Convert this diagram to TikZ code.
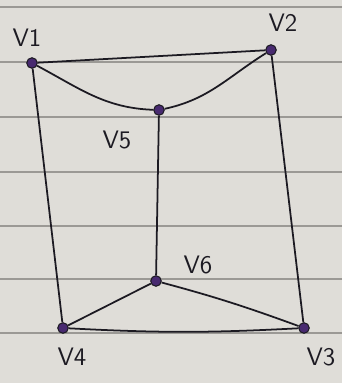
\documentclass[tikz,border=0pt]{standalone}
\definecolor{paper}{RGB}{223,221,216}
\definecolor{ruling}{RGB}{155,153,149}
\definecolor{ink}{RGB}{28,26,34}
\definecolor{inkpurple}{RGB}{72,42,112}
\usepackage{tikz}
\usetikzlibrary{positioning}

\begin{document}
\begin{tikzpicture}[
    x=0.02cm, y=-0.02cm,
    vertex/.style={circle, fill=inkpurple, draw=ink, line width=0.6pt,
                   inner sep=0pt, minimum size=6pt},
    edge/.style={ink, line width=1pt},
    vname/.style={font=\sffamily\Large, text=ink, inner sep=1pt}
  ]
    %% PAPER AND RULED LINES
    \fill[paper] (0,0) rectangle (342,383);
    \useasboundingbox (0,0) rectangle (342,383);
    \foreach \y in {7,62,117,172,226,279,333}
      \draw[ruling, line width=0.9pt] (0,\y) -- (342,\y);

    %% VERTICES
    \node[vertex] (v1) at (32,63) {};
    \node[vertex] (v2) at (271,50) {};
    \node[vertex] (v5) at (159,110) {};
    \node[vertex] (v6) at (156,281) {};
    \node[vertex] (v4) at (63,328) {};
    \node[vertex] (v3) at (304,328) {};

    %% VERTEX NAMES
    \node[vname] (n1) at (27,38) {V1};
    \node[vname] (n2) at (283,23) {V2};
    \node[vname] (n5) at (117,140) {V5};
    \node[vname] (n6) at (198,265) {V6};
    \node[vname] (n4) at (72,357) {V4};
    \node[vname] (n3) at (321,357) {V3};

    %% EDGES
    \draw[edge] (v1) -- (v2);
    \draw[edge] (v1) to[out=-28, in=178] (v5);
    \draw[edge] (v5) to[out=12, in=-148] (v2);
    \draw[edge] (v1) -- (v4);
    \draw[edge] (v2) -- (v3);
    \draw[edge] (v5) -- (v6);
    \draw[edge] (v6) -- (v4);
    \draw[edge] (v6) to[out=-15, in=160] (v3);
    \draw[edge] (v4) to[bend right=3] (v3);
  \end{tikzpicture}
\end{document}
